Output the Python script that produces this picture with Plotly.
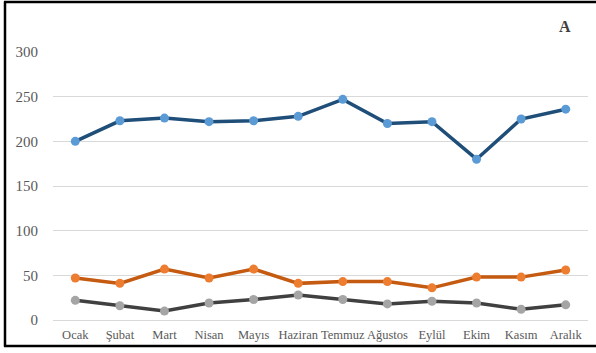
import plotly.graph_objects as go

months = ["Ocak", "Şubat", "Mart", "Nisan", "Mayıs", "Haziran", "Temmuz",
          "Ağustos", "Eylül", "Ekim", "Kasım", "Aralık"]
series_top = [200, 223, 226, 222, 223, 228, 247, 220, 222, 180, 225, 236]
series_mid = [47, 41, 57, 47, 57, 41, 43, 43, 36, 48, 48, 56]
series_low = [22, 16, 10, 19, 23, 28, 23, 18, 21, 19, 12, 17]
y_ticks = [0, 50, 100, 150, 200, 250, 300]

styles = [
    (series_top, "#1F4E79", "#5B9BD5"),
    (series_mid, "#C55A11", "#ED7D31"),
    (series_low, "#404040", "#A5A5A5"),
]

fig = go.Figure()
for vals, line_c, mark_c in styles:
    fig.add_trace(go.Scatter(
        x=months, y=vals, mode="lines+markers",
        line=dict(color=line_c, width=3.5),
        marker=dict(color=mark_c, size=9),
        showlegend=False, cliponaxis=False,
    ))

# plot-area geometry in pixels, used to place the frame outside the axes
L, R, T, B = 53, 588, 52, 320
W, H = R - L, B - T

def px(x):
    return (x - L) / W

def py(y):
    return (B - y) / H

frame = dict(color="black", width=2.5)
fig.add_shape(type="line", xref="paper", yref="paper",
              x0=px(5), x1=px(5), y0=py(1.5), y1=py(346.5), line=frame)
fig.add_shape(type="line", xref="paper", yref="paper",
              x0=px(4), x1=px(600), y0=py(2), y1=py(2), line=frame)
fig.add_shape(type="line", xref="paper", yref="paper",
              x0=px(4), x1=px(600), y0=py(346), y1=py(346), line=frame)

fig.add_annotation(text="<b>A</b>", xref="paper", yref="paper",
                   x=px(565), y=py(26), xanchor="center", yanchor="middle",
                   showarrow=False,
                   font=dict(family="Liberation Serif", size=16, color="#404040"))

fig.update_layout(
    width=596, height=353,
    margin=dict(l=L, r=596 - R, t=T, b=353 - B),
    paper_bgcolor="white", plot_bgcolor="white",
    font=dict(family="Liberation Serif", size=12, color="#595959"),
    xaxis=dict(range=[-0.5, 11.5], showgrid=False, showline=False,
               zeroline=False, ticks="", ticklabelstandoff=5,
               tickfont=dict(size=12.5)),
    yaxis=dict(range=[0, 300], tickvals=y_ticks, showgrid=True,
               gridcolor="#D9D9D9", gridwidth=1, zeroline=True,
               zerolinecolor="#D9D9D9", zerolinewidth=1, showline=False,
               ticks="", ticklabelstandoff=14, tickfont=dict(size=15)),
)

fig.write_html("out.html")
